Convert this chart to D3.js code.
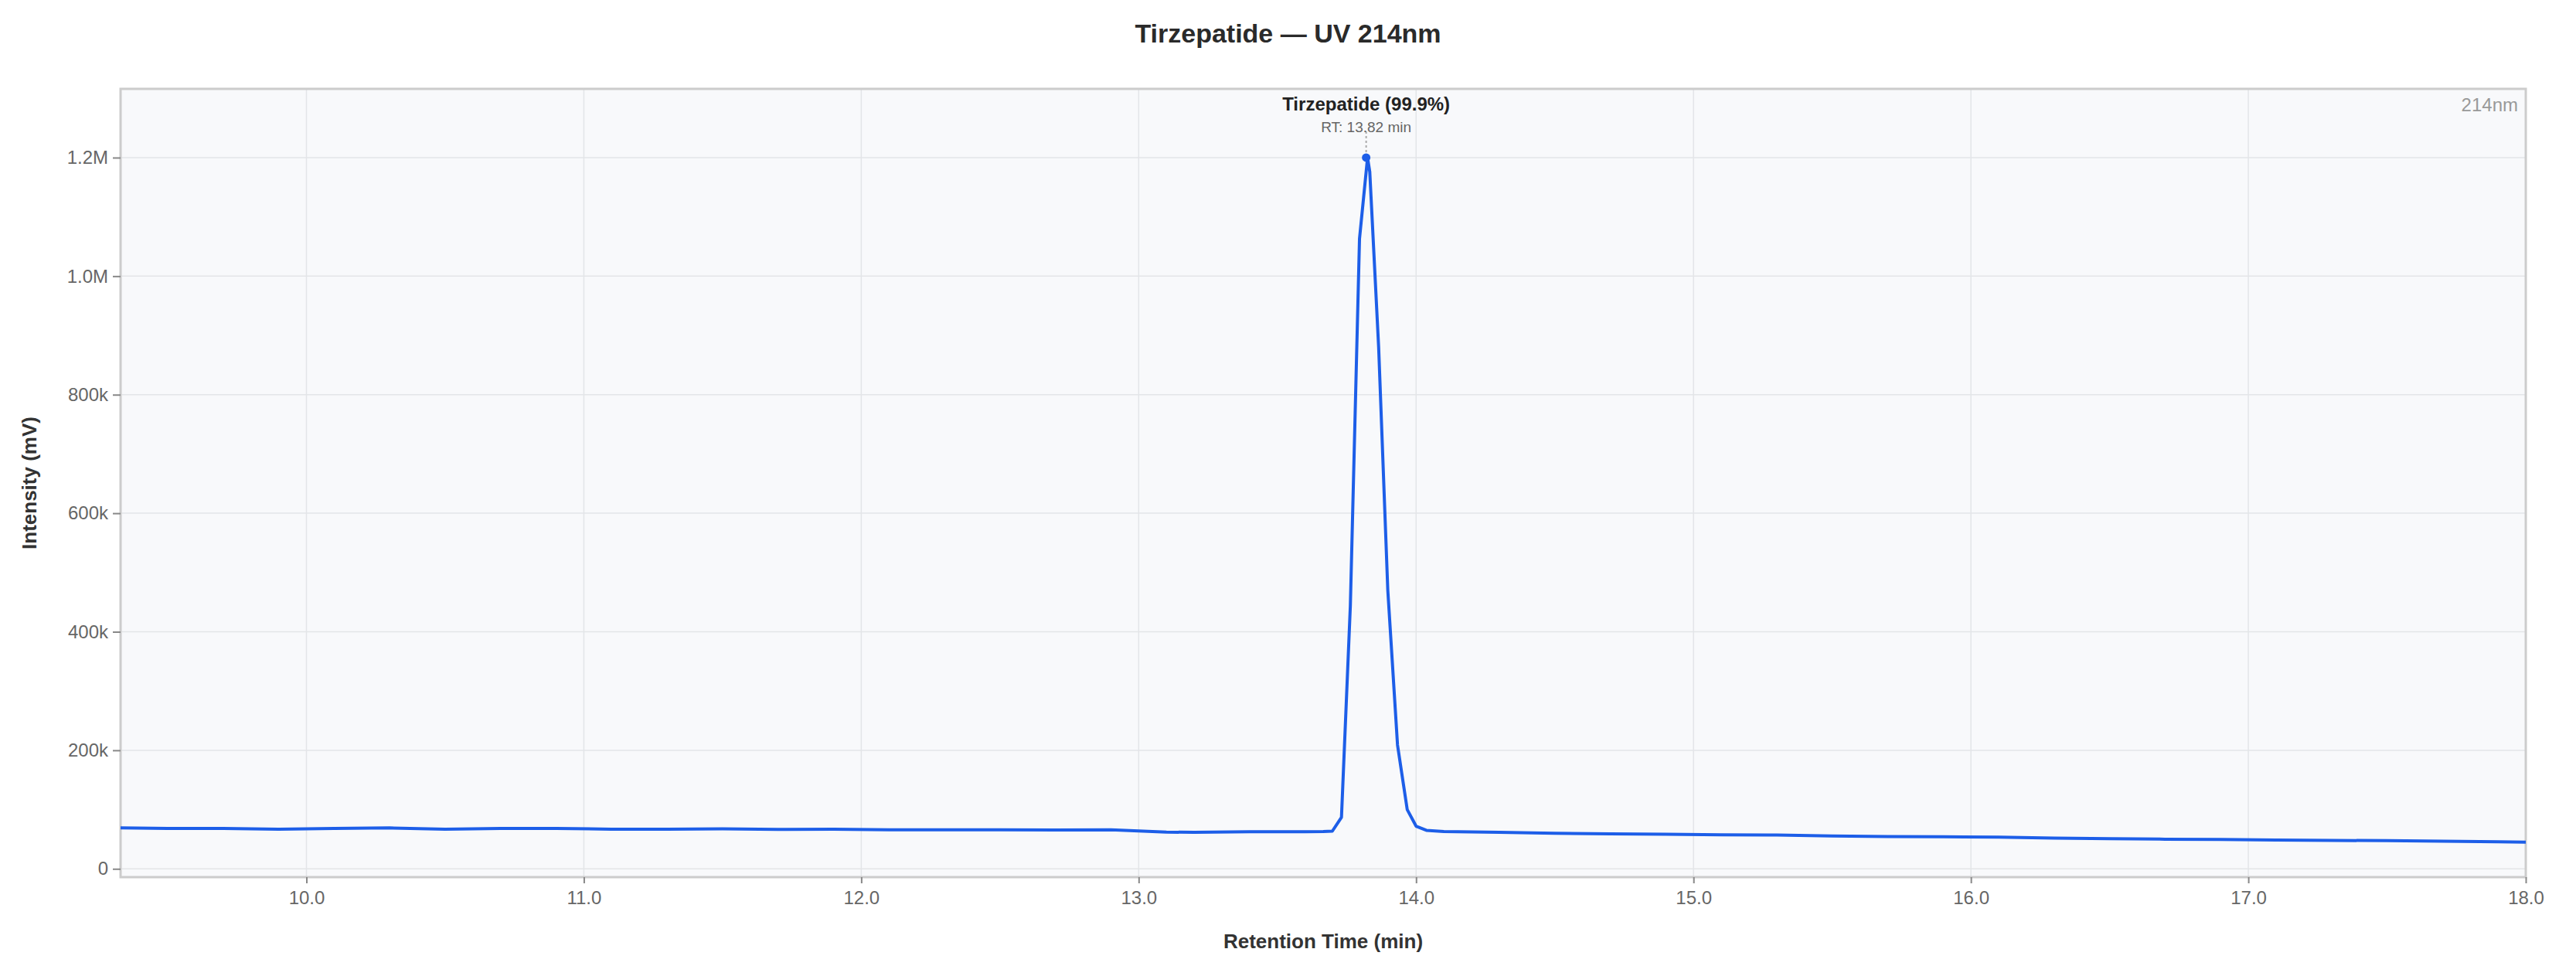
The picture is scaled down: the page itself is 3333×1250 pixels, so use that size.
<!DOCTYPE html>
<html>
<head>
<meta charset="utf-8">
<script src="https://cdn.jsdelivr.net/npm/d3@7"></script>
<style>
  body { margin: 0; background: #fff; font-family: "Liberation Sans", Arial, sans-serif; }
</style>
</head>
<body>
<script>
// retention time (min) and intensity (mV)
var times = [9.33, 9.5, 9.7, 9.9, 10.1, 10.3, 10.5, 10.7, 10.9, 11.1, 11.3, 11.5, 11.7, 11.9,
  12.1, 12.3, 12.5, 12.7, 12.9, 13.0, 13.1, 13.2, 13.4, 13.6, 13.665, 13.698, 13.731, 13.763,
  13.796, 13.825, 13.833, 13.865, 13.898, 13.933, 13.968, 14.0, 14.037, 14.1, 14.3, 14.5, 14.7,
  14.9, 15.1, 15.3, 15.5, 15.7, 15.9, 16.1, 16.3, 16.5, 16.7, 16.9, 17.1, 17.3, 17.5, 17.7, 17.9, 18.0];
var intensity = [69000, 68000, 68000, 67000, 68000, 69000, 67000, 68000, 68000, 67000, 67000, 67500, 66500, 67000,
  66000, 66000, 66000, 65500, 66000, 64000, 62000, 61500, 62500, 62500, 63000, 63600, 87000, 444000,
  1063000, 1200000, 1176000, 880000, 470000, 209000, 100000, 72000, 65000, 63000, 61500, 60000, 59000,
  58500, 57500, 57000, 55500, 54500, 54000, 53500, 52000, 51000, 50000, 49500, 48500, 48000, 47500, 46500, 45500, 45000];
var xTicks = [10, 11, 12, 13, 14, 15, 16, 17, 18];
var yTicks = [0, 200000, 400000, 600000, 800000, 1000000, 1200000];
var peakName = "Tirzepatide (99.9%)";
var peakRT = 13.82;
var peakValue = 1200000;

var width = 3333, height = 1250;
var margin = {top: 115, right: 65, bottom: 115, left: 156};

var svg = d3.select("body").append("svg")
    .attr("width", width)
    .attr("height", height);

var x = d3.scaleLinear().domain([9.33, 18]).range([margin.left, width - margin.right]);
var y = d3.scaleLinear().domain([-14000, 1316000]).range([height - margin.bottom, margin.top]);

//plot background
svg.append("rect")
    .attr("x", margin.left).attr("y", margin.top)
    .attr("width", width - margin.left - margin.right)
    .attr("height", height - margin.top - margin.bottom)
    .attr("fill", "#f8f9fb");

//grid
svg.selectAll(".gx").data(xTicks).enter().append("line")
    .attr("x1", d => x(d)).attr("x2", d => x(d))
    .attr("y1", margin.top).attr("y2", height - margin.bottom)
    .attr("stroke", "#e3e5e8").attr("stroke-width", 1.5);
svg.selectAll(".gy").data(yTicks).enter().append("line")
    .attr("x1", margin.left).attr("x2", width - margin.right)
    .attr("y1", d => y(d)).attr("y2", d => y(d))
    .attr("stroke", "#e3e5e8").attr("stroke-width", 1.5);

//frame
svg.append("rect")
    .attr("x", margin.left).attr("y", margin.top)
    .attr("width", width - margin.left - margin.right)
    .attr("height", height - margin.top - margin.bottom)
    .attr("fill", "none").attr("stroke", "#cccccc").attr("stroke-width", 3);

//axes
var xAxis = svg.append("g")
    .attr("transform", "translate(0," + (height - margin.bottom) + ")")
    .call(d3.axisBottom(x).tickValues(xTicks).tickFormat(d3.format(".1f")).tickSize(8).tickPadding(10));
var fmtY = d => d === 0 ? "0" : d >= 1000000 ? (d / 1000000).toFixed(1) + "M" : (d / 1000) + "k";
var yAxis = svg.append("g")
    .attr("transform", "translate(" + margin.left + ",0)")
    .call(d3.axisLeft(y).tickValues(yTicks).tickFormat(fmtY).tickSize(10).tickPadding(6));
[xAxis, yAxis].forEach(function(g){
    g.select(".domain").remove();
    g.selectAll("line").attr("stroke", "#888").attr("stroke-width", 2);
    g.selectAll("text").attr("fill", "#666").style("font-size", "24px")
        .style("font-family", "Liberation Sans, Arial, sans-serif");
});

//chromatogram line
var line = d3.line().x((d, i) => x(times[i])).y(d => y(d));
svg.append("path")
    .datum(intensity)
    .attr("d", line)
    .attr("fill", "none")
    .attr("stroke", "#1d5ee8")
    .attr("stroke-width", 4)
    .attr("stroke-linejoin", "round");

//peak annotation
svg.append("line")
    .attr("x1", x(peakRT)).attr("x2", x(peakRT))
    .attr("y1", 170).attr("y2", y(peakValue))
    .attr("stroke", "#aaa").attr("stroke-width", 2).attr("stroke-dasharray", "3,3");
svg.append("circle")
    .attr("cx", x(peakRT)).attr("cy", y(peakValue)).attr("r", 5.5)
    .attr("fill", "#1d5ee8");
svg.append("text")
    .attr("x", x(peakRT)).attr("y", 143)
    .attr("text-anchor", "middle").attr("fill", "#222")
    .style("font-size", "24px").style("font-weight", "bold")
    .text(peakName);
svg.append("text")
    .attr("x", x(peakRT)).attr("y", 171)
    .attr("text-anchor", "middle").attr("fill", "#666")
    .style("font-size", "19px")
    .text("RT: " + peakRT.toFixed(2) + " min");

svg.append("text")
    .attr("x", width - margin.right - 10).attr("y", 144)
    .attr("text-anchor", "end").attr("fill", "#999")
    .style("font-size", "24px")
    .text("214nm");

//titles
svg.append("text")
    .attr("x", width / 2).attr("y", 55)
    .attr("text-anchor", "middle").attr("fill", "#2a2a2a")
    .style("font-size", "34px").style("font-weight", "bold")
    .text("Tirzepatide — UV 214nm");
svg.append("text")
    .attr("x", (margin.left + width - margin.right) / 2).attr("y", 1227)
    .attr("text-anchor", "middle").attr("fill", "#333")
    .style("font-size", "26px").style("font-weight", "bold")
    .text("Retention Time (min)");
svg.append("text")
    .attr("transform", "translate(47," + ((margin.top + height - margin.bottom) / 2) + ") rotate(-90)")
    .attr("text-anchor", "middle").attr("fill", "#333")
    .style("font-size", "26px").style("font-weight", "bold")
    .text("Intensity (mV)");
</script>
</body>
</html>
